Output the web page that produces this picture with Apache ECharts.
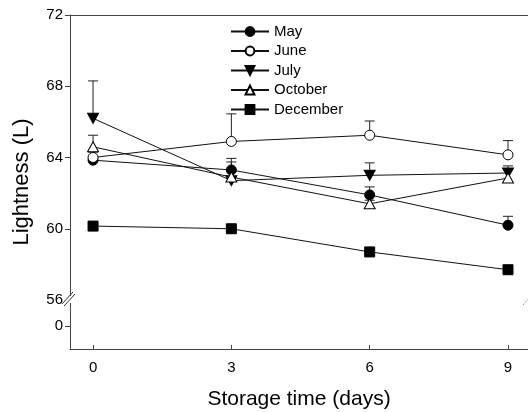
<!DOCTYPE html>
<html>
<head>
<meta charset="utf-8">
<script src="https://cdn.jsdelivr.net/npm/echarts@6/dist/echarts.min.js"></script>
<style>html,body{margin:0;padding:0;background:#fff}#c{width:528px;height:412px}</style>
</head>
<body>
<div id="c"></div>
<script>
var days = [0, 3, 6, 9];
var seriesNames = ['May', 'June', 'July', 'October', 'December'];
var may = [63.85, 63.3, 61.9, 60.2];
var june = [64.0, 64.9, 65.25, 64.15];
var july = [66.2, 62.7, 63.0, 63.13];
var october = [64.6, 62.9, 61.4, 62.85];
var december = [60.15, 60.0, 58.7, 57.7];
var maySD = [0.2, 0.45, 0.45, 0.5];
var juneSD = [0.3, 1.55, 0.8, 0.8];
var julySD = [2.1, 1.25, 0.7, 0.4];
var octoberSD = [0.65, 0.3, 0.2, 0.45];
var decemberSD = [0.1, 0.1, 0.15, 0.1];
var yTicks = [56, 60, 64, 68, 72];
var xTicks = [0, 3, 6, 9];
var zeroPos = 54.54; // where "0" sits on the broken axis

var font = 'Liberation Sans, Arial, sans-serif';
var valueSets = [may, june, july, october, december];
var sdSets = [maySD, juneSD, julySD, octoberSD, decemberSD];
var symbols = ['circle', 'circle', 'path://M0,0L10,0L5,9Z', 'path://M5,0L10,9L0,9Z', 'rect'];
var fills = ['#000', '#fff', '#000', '#fff', '#000'];

var series = [];
seriesNames.forEach(function (name, i) {
  var errData = days.map(function (d, k) { return [d, valueSets[i][k], valueSets[i][k] + sdSets[i][k]]; });
  series.push({
    type: 'custom',
    name: name + ' err',
    data: errData,
    z: 1,
    silent: true,
    renderItem: function (params, api) {
      var p0 = api.coord([api.value(0), api.value(1)]);
      var p1 = api.coord([api.value(0), api.value(2)]);
      var w = 5;
      return {
        type: 'group',
        children: [
          { type: 'line', shape: { x1: p0[0], y1: p0[1], x2: p1[0], y2: p1[1] }, style: { stroke: '#222', lineWidth: 1 } },
          { type: 'line', shape: { x1: p1[0] - w, y1: p1[1], x2: p1[0] + w, y2: p1[1] }, style: { stroke: '#222', lineWidth: 1 } }
        ]
      };
    }
  });
});
seriesNames.forEach(function (name, i) {
  series.push({
    type: 'line',
    name: name,
    data: days.map(function (d, k) { return [d, valueSets[i][k]]; }),
    symbol: symbols[i],
    symbolSize: i === 2 || i === 3 ? [11, 10] : 10,
    showAllSymbol: true,
    z: 3,
    lineStyle: { color: '#111', width: 1 },
    itemStyle: { color: fills[i], borderColor: '#000', borderWidth: 1, opacity: 1 },
    emphasis: { disabled: true }
  });
});

var chart = echarts.init(document.getElementById('c'), null, { renderer: 'canvas' });
chart.setOption({
  animation: false,
  backgroundColor: '#fff',
  grid: { left: 70, top: 15, right: 0, bottom: 63, outerBoundsMode: 'none', containLabel: false },
  legend: {
    data: seriesNames,
    orient: 'vertical',
    left: 225,
    top: 18,
    itemWidth: 38,
    itemHeight: 11,
    itemGap: 2.5,
    textStyle: { fontFamily: font, fontSize: 15, color: '#000', lineHeight: 17 },
    inactiveColor: '#000'
  },
  xAxis: [{
    type: 'value',
    min: -0.5,
    max: 9.434,
    name: 'Storage time (days)',
    nameLocation: 'middle',
    nameGap: 40,
    nameTextStyle: { fontFamily: font, fontSize: 21, color: '#000' },
    splitLine: { show: false },
    axisLine: { show: true, lineStyle: { color: '#444', width: 1 } },
    axisTick: { show: true, inside: true, length: 4, customValues: xTicks, lineStyle: { color: '#444' } },
    axisLabel: { customValues: xTicks, fontFamily: font, fontSize: 15, color: '#000', margin: 11 }
  }, {
    type: 'value',
    position: 'top',
    min: -0.5,
    max: 9.434,
    axisLine: { show: true, onZero: false, lineStyle: { color: '#444', width: 1 } },
    axisTick: { show: false },
    axisLabel: { show: false },
    splitLine: { show: false }
  }],
  yAxis: {
    type: 'value',
    min: 53.25,
    max: 72,
    name: 'Lightness (L)',
    nameLocation: 'middle',
    nameGap: 37,
    nameTextStyle: { fontFamily: font, fontSize: 22, color: '#000' },
    splitLine: { show: false },
    axisLine: { show: true, onZero: false, lineStyle: { color: '#444', width: 1 } },
    axisTick: { show: true, length: 5, customValues: [zeroPos, 60, 64, 68, 72], lineStyle: { color: '#444' } },
    axisLabel: {
      customValues: [zeroPos].concat(yTicks),
      fontFamily: font, fontSize: 15, color: '#000', margin: 7,
      formatter: function (v) { return Math.abs(v - zeroPos) < 0.01 ? '0' : String(v); }
    }
  },
  graphic: [
    { type: 'rect', shape: { x: 67, y: 296, width: 6, height: 7 }, style: { fill: '#fff' }, z: 100 },
    { type: 'line', shape: { x1: 62, y1: 304, x2: 73, y2: 292 }, style: { stroke: '#333', lineWidth: 1 }, z: 101 },
    { type: 'line', shape: { x1: 64, y1: 306, x2: 75, y2: 294 }, style: { stroke: '#333', lineWidth: 1 }, z: 101 },
    { type: 'line', shape: { x1: 523, y1: 305, x2: 528, y2: 299 }, style: { stroke: '#777', lineWidth: 1, lineDash: [1, 1] }, z: 101 }
  ],
  series: series
});
</script>
</body>
</html>
